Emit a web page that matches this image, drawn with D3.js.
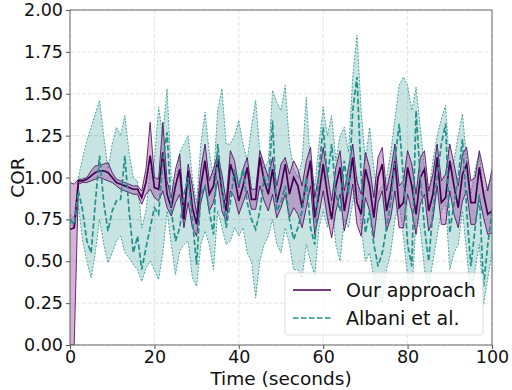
<!DOCTYPE html>
<html>
<head>
<meta charset="utf-8">
<script src="https://cdn.jsdelivr.net/npm/d3@7"></script>
<style>
  body { margin: 0; background: #fff; }
  text { font-family: "DejaVu Sans", sans-serif; }
</style>
</head>
<body>
<svg id="chart" width="512" height="390"></svg>
<script>
// time samples, one per second
var times = d3.range(0, 101)

// Our approach: mean, lower and upper band
var oursMean = [.69,.70,.98,.98,.99,1.01,1.03,1.04,1.04,1.03,1.00,.97,.96,.95,.94,.93,.93,.88,
  .97,1.13,.94,.93,1.15,.90,.82,.95,1.05,.75,1.04,.82,.72,.95,1.10,.90,.95,1.11,.92,.80,1.08,1.00,
  .86,.95,1.06,.87,.87,1.12,.98,.90,1.05,.85,.95,1.08,.90,1.00,.95,.82,.98,1.10,.76,.90,
  1.08,.90,.75,.95,1.06,.80,.95,1.12,.85,.78,1.05,.95,.76,1.00,1.08,.80,.92,1.10,.82,.85,
  1.06,.95,.78,1.00,1.05,.80,.90,1.12,.85,.88,1.10,.95,.82,1.02,1.08,.85,.85,1.06,.90,.78,.80]
var oursLow = [0,0,.96,.97,.97,.98,.99,1.0,.99,.98,.97,.95,.93,.92,.91,.90,.90,.84,
  .90,.93,.88,.86,.92,.82,.77,.85,.90,.70,.85,.70,.65,.85,.95,.80,.85,.98,.80,.74,.92,.88,
  .78,.85,.92,.81,.81,.95,.86,.80,.90,.76,.82,.90,.76,.82,.78,.70,.82,.95,.66,.78,
  .92,.76,.64,.80,.90,.68,.80,.96,.72,.65,.88,.80,.64,.85,.92,.68,.76,.92,.70,.70,
  .90,.80,.66,.84,.90,.68,.75,.95,.72,.72,.92,.78,.70,.86,.92,.72,.72,.88,.76,.66,.67]
var oursHigh = [.97,.96,.99,.99,1.0,1.04,1.07,1.07,1.08,1.09,1.03,.99,.98,.97,.96,.95,.95,.92,
  1.05,1.33,1.00,.99,1.33,.98,.88,1.05,1.14,.80,1.08,.95,.78,1.05,1.20,.98,1.05,1.14,1.02,.86,1.16,1.10,
  .94,1.05,1.12,.93,.93,1.16,1.08,1.00,1.12,.95,1.08,1.12,1.02,1.10,1.05,.95,1.10,1.18,.88,1.02,
  1.18,1.02,.86,1.06,1.16,.92,1.06,1.20,.98,.90,1.15,1.06,.88,1.12,1.18,.92,1.04,1.20,.95,.98,
  1.16,1.08,.90,1.12,1.16,.92,1.02,1.20,.98,1.02,1.20,1.08,.95,1.14,1.18,.98,1.00,1.16,1.04,.92,1.05]

// Albani et al.: mean, lower and upper band
var albaniMean = [.75,.72,.92,.80,.62,.55,.85,1.13,.85,.68,.80,.86,.87,1.13,.80,.55,.65,.45,
  .58,.70,.82,.78,1.10,1.27,.80,.62,.70,.90,1.00,.75,.48,.90,.95,.80,.66,1.20,.95,.70,.85,1.05,
  .95,1.05,.85,.75,.69,.80,1.00,.95,1.34,.80,.85,.95,.75,.63,.70,.80,1.00,.70,.60,1.05,
  1.30,1.00,1.20,.90,.80,1.10,.90,1.40,1.60,1.00,.67,.80,.60,.47,.55,.70,.85,1.10,1.32,1.00,
  .60,.47,1.40,1.00,.70,.50,.80,1.00,1.20,1.32,.67,.85,1.00,1.23,.80,.47,.70,.90,.35,.60,.80]
var albaniLow = [.73,.70,.83,.62,.50,.40,.55,.75,.60,.49,.55,.62,.65,.55,.52,.48,.45,.38,
  .46,.50,.45,.39,.55,.80,.60,.42,.56,.60,.62,.40,.35,.60,.68,.60,.45,.80,.70,.60,.62,.70,
  .65,.70,.55,.50,.28,.50,.60,.65,.75,.60,.55,.70,.60,.45,.45,.40,.60,.50,.41,.70,
  .80,.70,.85,.60,.50,.75,.70,.85,1.00,.70,.50,.55,.40,.30,.25,.45,.55,.75,.85,.65,
  .40,.30,.75,.70,.45,.35,.50,.65,.80,.85,.45,.55,.60,.80,.55,.30,.45,.60,.24,.40,.55]
var albaniHigh = [.78,.76,1.00,1.12,1.22,1.30,1.38,1.46,1.25,1.05,1.20,1.30,1.25,1.37,1.15,1.00,.98,.70,
  .80,1.05,1.10,1.42,1.25,1.53,1.00,.95,1.15,1.20,1.25,1.00,.85,1.20,1.39,1.15,1.00,1.40,1.53,1.20,1.20,1.25,
  1.34,1.20,1.10,1.30,1.46,1.15,1.05,1.10,1.52,1.45,1.40,1.55,1.20,1.05,1.00,1.10,1.48,1.05,.95,1.20,
  1.42,1.25,1.37,1.10,1.25,1.30,1.15,1.60,1.85,1.40,1.10,1.30,1.05,.90,.95,1.00,1.15,1.35,1.55,1.60,
  1.55,1.40,1.54,1.30,1.05,.90,1.10,1.25,1.35,1.43,1.05,1.10,1.25,1.38,1.10,.90,1.05,1.15,.90,.95,1.00]

var xTicks = [0, 20, 40, 60, 80, 100]
var yTicks = [0, 0.25, 0.5, 0.75, 1.0, 1.25, 1.5, 1.75, 2.0]

var purple = "#440154", teal = "#21918c", purpleFill = "#9b4a9f"

var svg = d3.select("#chart")
var plotLeft = 70, plotRight = 492, plotTop = 10, plotBottom = 345

var x = d3.scaleLinear().domain([0, 100]).range([plotLeft, plotRight])
var y = d3.scaleLinear().domain([0, 2]).range([plotBottom, plotTop])

// grid
svg.append("g").selectAll("line").data(xTicks).join("line")
  .attr("x1", d => x(d)).attr("x2", d => x(d)).attr("y1", plotTop).attr("y2", plotBottom)
  .attr("stroke", "#dcdcdc").attr("stroke-dasharray", "4,2").attr("stroke-width", 0.8)
svg.append("g").selectAll("line").data(yTicks).join("line")
  .attr("y1", d => y(d)).attr("y2", d => y(d)).attr("x1", plotLeft).attr("x2", plotRight)
  .attr("stroke", "#dcdcdc").attr("stroke-dasharray", "4,2").attr("stroke-width", 0.8)

svg.append("clipPath").attr("id", "clip").append("rect")
  .attr("x", plotLeft).attr("y", plotTop).attr("width", plotRight - plotLeft).attr("height", plotBottom - plotTop)
var plot = svg.append("g").attr("clip-path", "url(#clip)")

function band(lo, hi) {
  return d3.area().x((d, i) => x(times[i])).y0((d, i) => y(lo[i])).y1((d, i) => y(hi[i]))(times)
}
function line(vals) {
  return d3.line().x((d, i) => x(times[i])).y((d, i) => y(vals[i]))(times)
}

// Albani band
plot.append("path").attr("d", band(albaniLow, albaniHigh))
  .attr("fill", teal).attr("fill-opacity", 0.25)
plot.append("path").attr("d", line(albaniLow)).attr("fill", "none")
  .attr("stroke", teal).attr("stroke-width", 0.8).attr("stroke-dasharray", "2,1.5")
plot.append("path").attr("d", line(albaniHigh)).attr("fill", "none")
  .attr("stroke", teal).attr("stroke-width", 0.8).attr("stroke-dasharray", "2,1.5")

// our band
plot.append("path").attr("d", band(oursLow, oursHigh))
  .attr("fill", purpleFill).attr("fill-opacity", 0.42)
plot.append("path").attr("d", line(oursLow)).attr("fill", "none")
  .attr("stroke", purple).attr("stroke-width", 0.8)
plot.append("path").attr("d", line(oursHigh)).attr("fill", "none")
  .attr("stroke", purple).attr("stroke-width", 0.8)

// mean lines
plot.append("path").attr("d", line(oursMean)).attr("fill", "none")
  .attr("stroke", purple).attr("stroke-width", 1.7)
plot.append("path").attr("d", line(albaniMean)).attr("fill", "none")
  .attr("stroke", teal).attr("stroke-width", 1.7).attr("stroke-dasharray", "5.5,2.5")

// axes
var xAxis = svg.append("g").attr("transform", "translate(0," + plotBottom + ")")
  .call(d3.axisBottom(x).tickValues(xTicks).tickSize(4).tickPadding(2).tickFormat(d3.format("d")))
var yAxis = svg.append("g").attr("transform", "translate(" + plotLeft + ",0)")
  .call(d3.axisLeft(y).tickValues(yTicks).tickSize(4).tickPadding(3).tickFormat(d3.format(".2f")))
;[xAxis, yAxis].forEach(function (a) {
  a.select(".domain").remove()
  a.selectAll("line").attr("stroke", "#555")
  a.selectAll("text").attr("font-size", 17.5).attr("fill", "#111")
    .attr("font-family", "DejaVu Sans")
})

// frame
svg.append("rect").attr("x", plotLeft).attr("y", plotTop)
  .attr("width", plotRight - plotLeft).attr("height", plotBottom - plotTop)
  .attr("fill", "none").attr("stroke", "#666").attr("stroke-width", 1)

svg.append("text").attr("x", (plotLeft + plotRight) / 2).attr("y", 385).attr("text-anchor", "middle")
  .attr("font-size", 18.5).attr("fill", "#111").text("Time (seconds)")
svg.append("text").attr("transform", "translate(24," + (plotTop + plotBottom) / 2 + ") rotate(-90)")
  .attr("text-anchor", "middle").attr("font-size", 18.5).attr("fill", "#111").text("COR")

// legend
var lg = svg.append("g").attr("transform", "translate(285,273)")
lg.append("rect").attr("width", 198).attr("height", 62).attr("rx", 3)
  .attr("fill", "#fff").attr("fill-opacity", 0.8).attr("stroke", "#ddd")
var legendItems = [["Our approach", purple, null, 1.7], ["Albani et al.", teal, "5.5,2.5", 1.7]]
legendItems.forEach(function (it, i) {
  var yy = 17 + i * 28
  lg.append("line").attr("x1", 8).attr("x2", 46).attr("y1", yy).attr("y2", yy)
    .attr("stroke", it[1]).attr("stroke-width", it[3]).attr("stroke-dasharray", it[2])
  lg.append("text").attr("x", 61).attr("y", yy + 7).attr("font-size", 19).attr("fill", "#111").text(it[0])
})
</script>
</body>
</html>
